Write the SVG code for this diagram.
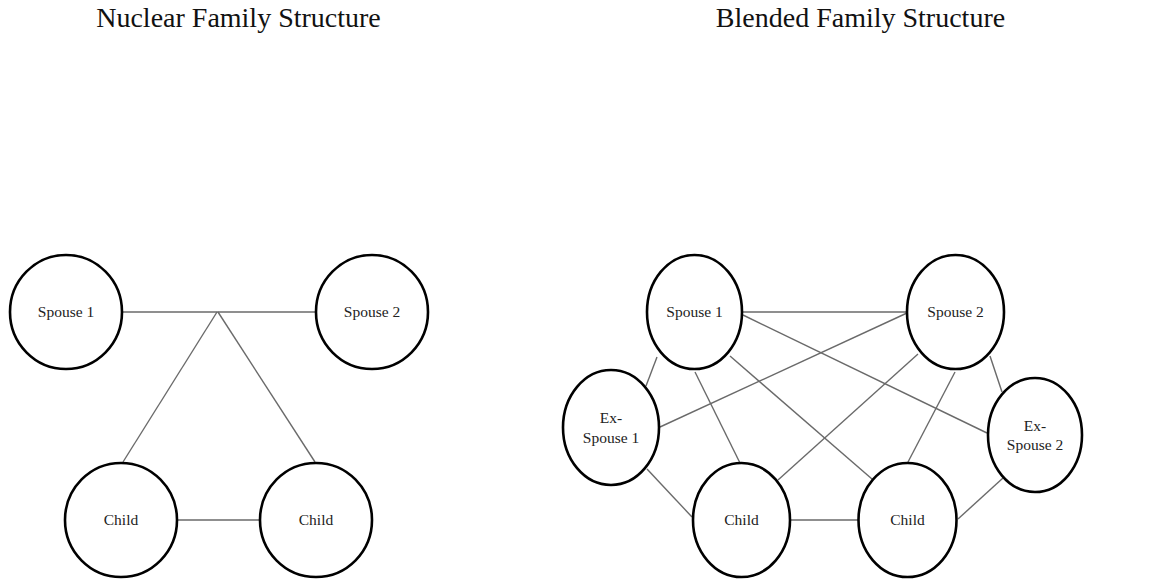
<svg xmlns="http://www.w3.org/2000/svg" width="1164" height="580" viewBox="0 0 1164 580">
<style>
.title{font-family:"Liberation Serif","Times New Roman",serif;font-size:28px;fill:#111;text-anchor:middle}
.lbl{font-family:"Liberation Serif","Times New Roman",serif;font-size:15.5px;fill:#222;text-anchor:middle}
.node{fill:#fff;stroke:#000;stroke-width:2.6}
.edge{stroke:#6a6a6a;stroke-width:1.4;fill:none}
</style>
<rect width="1164" height="580" fill="#fff"/>
<text class="title" x="238.5" y="27">Nuclear Family Structure</text>
<text class="title" x="860.5" y="27">Blended Family Structure</text>
<g id="connectors">
<line class="edge" x1="123" y1="312" x2="316" y2="312"/>
<line class="edge" x1="217" y1="312" x2="123" y2="462"/>
<line class="edge" x1="218" y1="312" x2="315" y2="462"/>
<line class="edge" x1="177" y1="520" x2="260" y2="520"/>
<line class="edge" x1="742" y1="312" x2="907" y2="312"/>
<line class="edge" x1="743" y1="315" x2="987" y2="433"/>
<line class="edge" x1="907" y1="313" x2="660" y2="427"/>
<line class="edge" x1="657" y1="357" x2="646" y2="386"/>
<line class="edge" x1="695" y1="372" x2="740" y2="463"/>
<line class="edge" x1="730" y1="356" x2="872" y2="479"/>
<line class="edge" x1="918" y1="354" x2="778" y2="480"/>
<line class="edge" x1="955" y1="372" x2="908" y2="462"/>
<line class="edge" x1="990" y1="356" x2="1002" y2="392"/>
<line class="edge" x1="647" y1="469" x2="692" y2="517"/>
<line class="edge" x1="790" y1="520" x2="858" y2="520"/>
<line class="edge" x1="1003" y1="478" x2="958" y2="519"/>
</g>
<g id="n-spouse1"><ellipse class="node" cx="66" cy="312" rx="56" ry="57"/><text class="lbl" x="66" y="317">Spouse 1</text></g>
<g id="n-spouse2"><ellipse class="node" cx="372" cy="312" rx="56" ry="57"/><text class="lbl" x="372" y="317">Spouse 2</text></g>
<g id="n-child1"><ellipse class="node" cx="121" cy="520" rx="56" ry="57"/><text class="lbl" x="121" y="525">Child</text></g>
<g id="n-child2"><ellipse class="node" cx="316" cy="520" rx="56" ry="57"/><text class="lbl" x="316" y="525">Child</text></g>
<g id="b-spouse1"><ellipse class="node" cx="694.5" cy="312" rx="47.5" ry="57"/><text class="lbl" x="694.5" y="317">Spouse 1</text></g>
<g id="b-spouse2"><ellipse class="node" cx="955.5" cy="312" rx="48.5" ry="57"/><text class="lbl" x="955.5" y="317">Spouse 2</text></g>
<g id="b-exspouse1"><ellipse class="node" cx="611" cy="427.5" rx="48" ry="57.5"/><text class="lbl" x="611" y="423">Ex-</text><text class="lbl" x="611" y="443">Spouse 1</text></g>
<g id="b-exspouse2"><ellipse class="node" cx="1035" cy="435" rx="47" ry="57"/><text class="lbl" x="1035" y="431">Ex-</text><text class="lbl" x="1035" y="450">Spouse 2</text></g>
<g id="b-child1"><ellipse class="node" cx="741.5" cy="520" rx="48.5" ry="57"/><text class="lbl" x="741.5" y="525">Child</text></g>
<g id="b-child2"><ellipse class="node" cx="907.5" cy="520" rx="49" ry="57"/><text class="lbl" x="907.5" y="525">Child</text></g>
</svg>
